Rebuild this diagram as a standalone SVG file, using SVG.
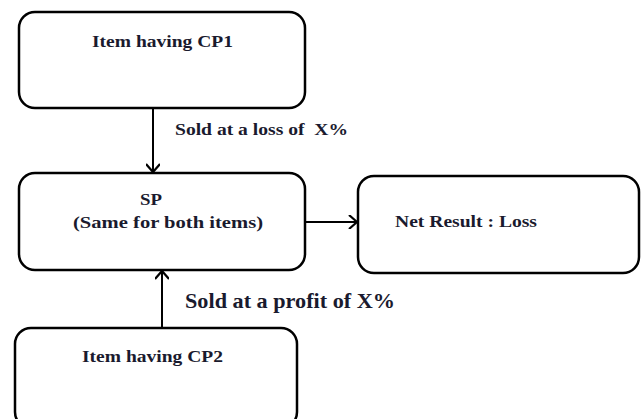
<svg xmlns="http://www.w3.org/2000/svg" width="641" height="419" viewBox="0 0 641 419">
<defs>
<marker id="chev" markerWidth="14" markerHeight="14" refX="11" refY="7" orient="auto" markerUnits="userSpaceOnUse">
<path d="M3,0 L11,7 L3,14" fill="none" stroke="#000" stroke-width="2.2"/>
</marker>
<style>
.box{fill:#fff;stroke:#000;stroke-width:2.5}
.t{font-family:"Liberation Serif","DejaVu Serif",serif;font-weight:bold;font-size:17.5px;fill:#1a1a2e}
.big{font-size:21px}
.conn{stroke:#000;stroke-width:2;fill:none;marker-end:url(#chev)}
</style>
</defs>
<rect width="641" height="419" fill="#fff"/>
<g id="node-cp1">
<rect class="box" x="19" y="12" width="286" height="96" rx="16"/>
<text class="t" x="92" y="47" textLength="141" lengthAdjust="spacingAndGlyphs">Item having CP1</text>
</g>
<g id="node-sp">
<rect class="box" x="19" y="173" width="286" height="97" rx="16"/>
<text class="t" x="140" y="205" textLength="22" lengthAdjust="spacingAndGlyphs">SP</text>
<text class="t" x="73" y="228" textLength="190" lengthAdjust="spacingAndGlyphs">(Same for both items)</text>
</g>
<g id="node-result">
<rect class="box" x="358" y="176" width="281" height="97" rx="16"/>
<text class="t" x="395" y="227" textLength="142" lengthAdjust="spacingAndGlyphs">Net Result : Loss</text>
</g>
<g id="node-cp2">
<rect class="box" x="15" y="328" width="282" height="100" rx="16"/>
<text class="t" x="82" y="362" textLength="141" lengthAdjust="spacingAndGlyphs">Item having CP2</text>
</g>
<g id="connectors">
<line class="conn" x1="153" y1="108" x2="153" y2="172"/>
<line class="conn" x1="162" y1="328" x2="162" y2="271"/>
<line class="conn" x1="305" y1="222" x2="357" y2="222"/>
<text class="t" x="175" y="135" textLength="173" lengthAdjust="spacingAndGlyphs" xml:space="preserve">Sold at a loss of  X%</text>
<text class="t big" x="185" y="308" textLength="210" lengthAdjust="spacingAndGlyphs">Sold at a profit of X%</text>
</g>
</svg>
